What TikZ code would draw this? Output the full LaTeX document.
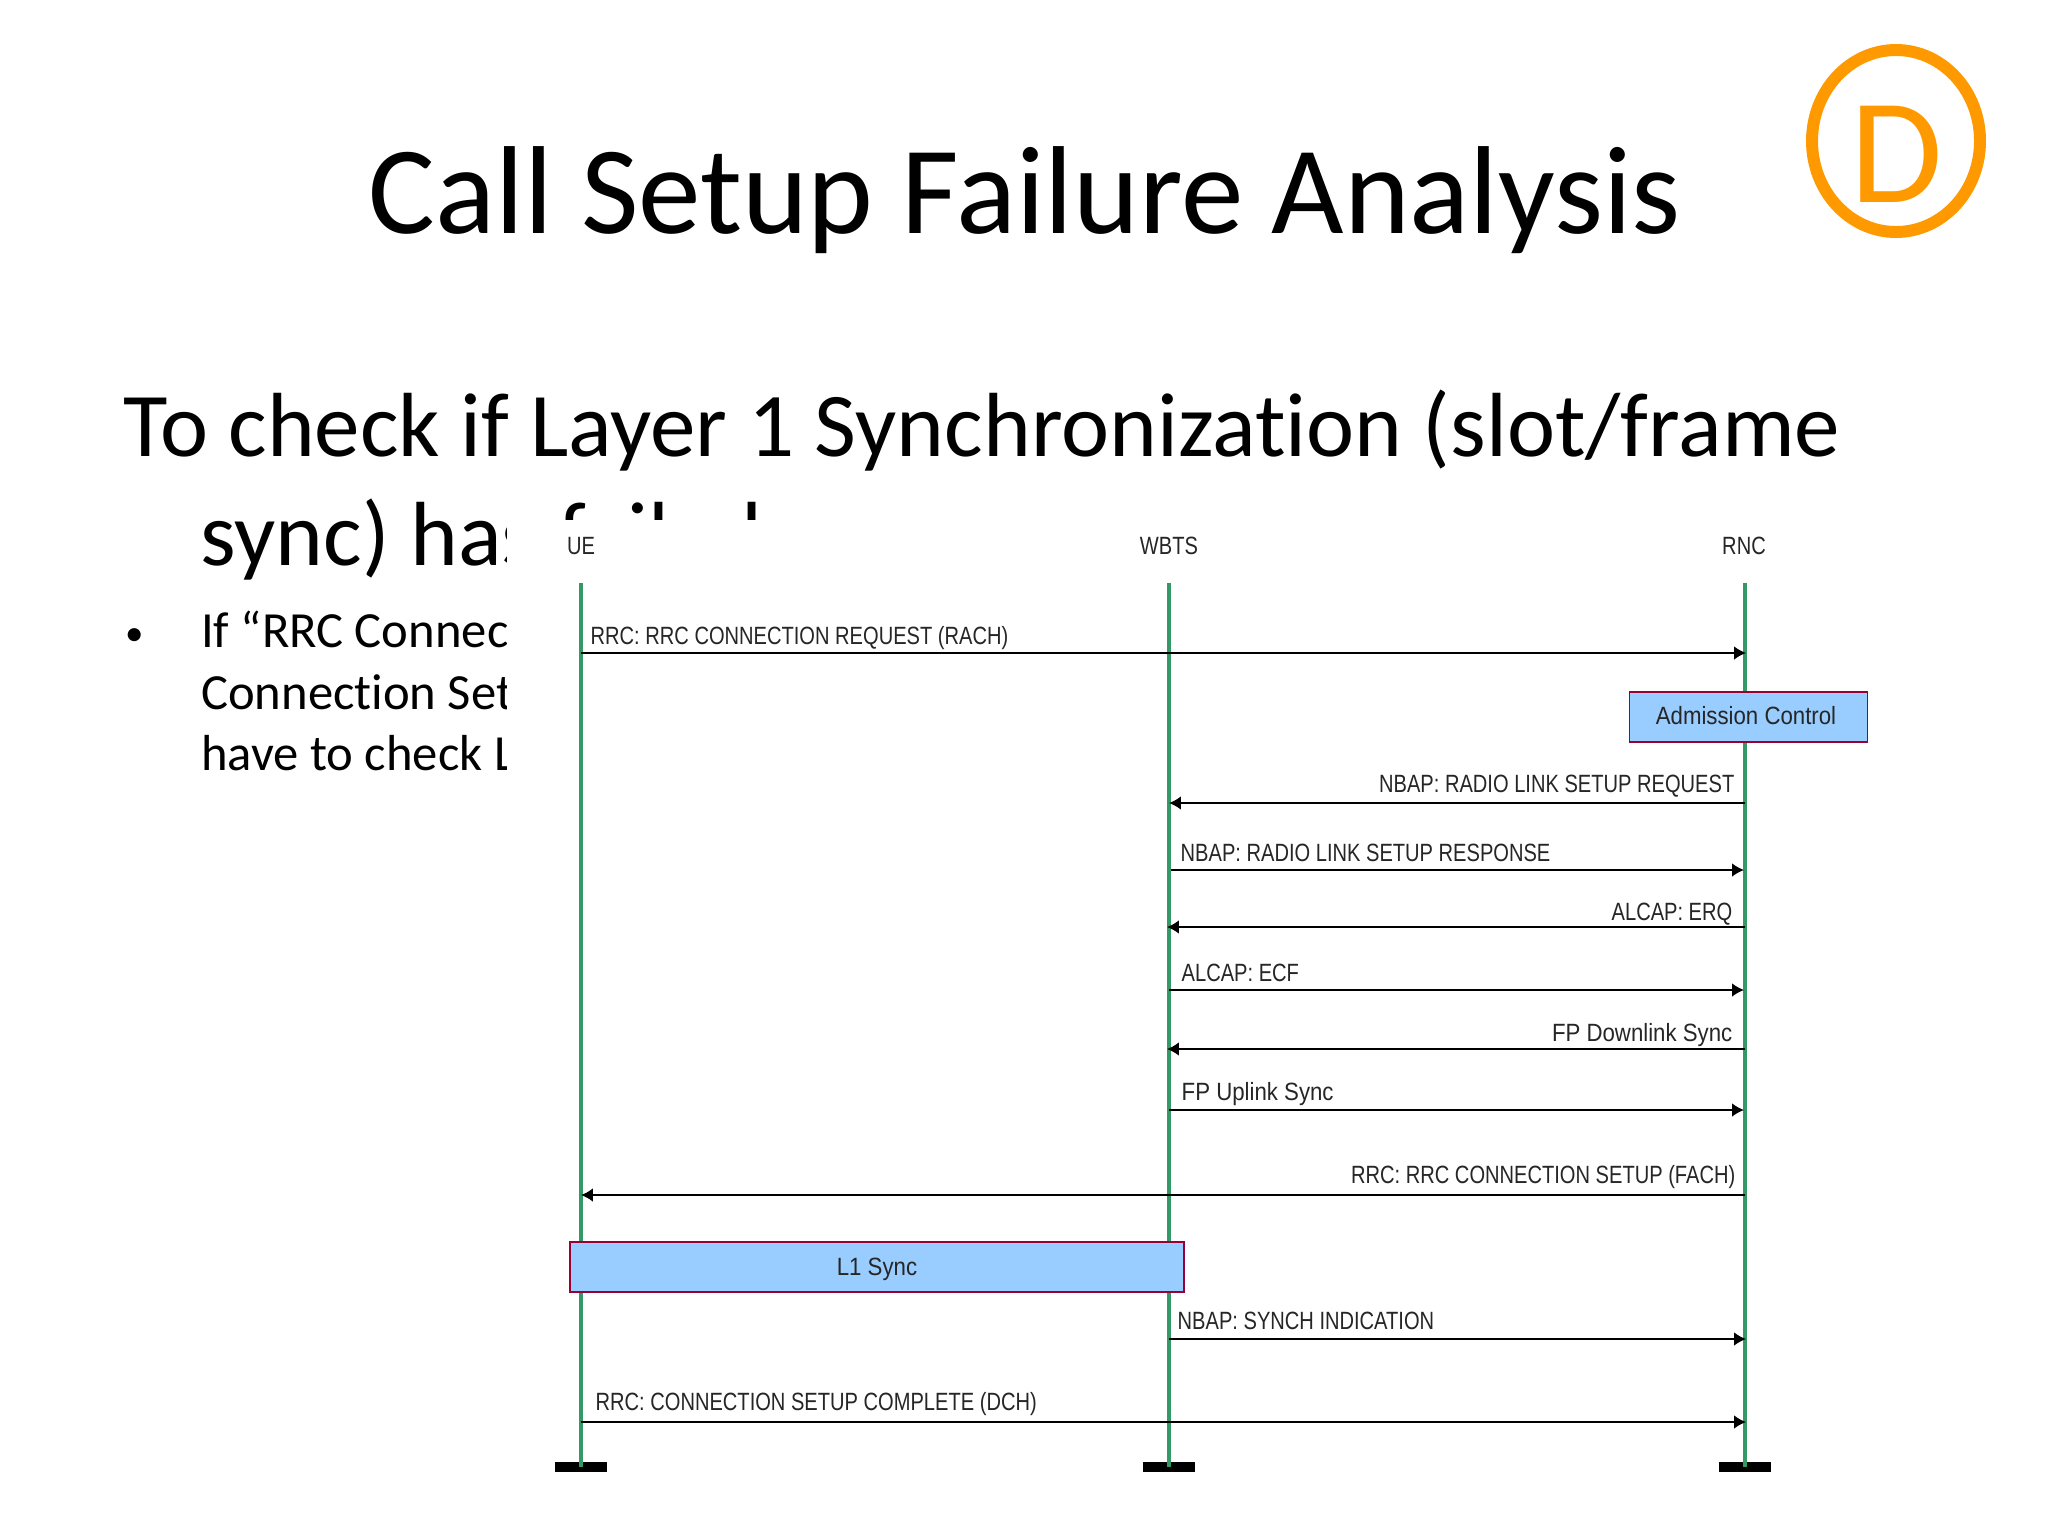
\documentclass[tikz,border=0pt]{standalone}
\usepackage{fontspec}
\setmainfont[Ligatures=NoCommon]{Carlito}
\newfontfamily\seqfont[FakeStretch=0.805]{Liberation Sans}
\newfontfamily\seqmixfont[FakeStretch=0.89]{Liberation Sans}
\usetikzlibrary{arrows.meta}
\definecolor{lifegreen}{HTML}{339966}
\definecolor{boxblue}{HTML}{99CCFF}
\definecolor{boxred}{HTML}{990033}
\definecolor{logoorange}{HTML}{FF9900}
\tikzset{
    slidetext/.style={anchor=base west, inner sep=0pt, font=\fontsize{#1}{#1}\selectfont},
    seqlabel/.style={inner sep=0pt, text=black!85, font=\seqfont\fontsize{7.1}{8}\selectfont},
    seqmix/.style={inner sep=0pt, text=black!85, font=\seqmixfont\fontsize{7.1}{8}\selectfont},
    lifeline/.style={lifegreen, line width=1.35pt},
    msg/.style={-{Latex[length=3.4pt,width=3.9pt]}, line width=0.55pt},
    sysbox/.style={draw=boxred, fill=boxblue, line width=0.45pt, inner sep=0pt}
}

\begin{document}
\begin{tikzpicture}[x=0.01cm, y=-0.01cm]
    \useasboundingbox (0,0) rectangle (2048,1536);

    % slide text
    \node[slidetext=35.6, anchor=base] (title) at (1025,233) {Call Setup Failure Analysis};
    \node[slidetext=25.9] (bodya) at (123,456) {To check if Layer 1 Synchronization (slot/frame};
    \node[slidetext=25.9] (bodyb) at (200,565) {sync) has failed};
    \node[slidetext=10.5] (dot) at (124.5,645) {•};
    \node[slidetext=14.4] (bula) at (200.5,647) {If “RRC Connection};
    \node[slidetext=14.4] (bulb) at (200.5,709) {Connection Setup};
    \node[slidetext=14.4] (bulc) at (200.5,770) {have to check L1};

    % the pasted chart hides the rest of the text
    \fill[white] (507,520) rectangle (1900,1536);

    % logo
    \draw[logoorange, line width=3.4pt] (1896,141) ellipse (84 and 91);
    \node[slidetext=42.7, text=logoorange, anchor=base] (logo) at (1897,202) {D};

    % heads
    \node[seqlabel, anchor=base] (ue) at (581,554) {UE};
    \node[seqlabel, anchor=base] (wbts) at (1169,554) {WBTS};
    \node[seqlabel, anchor=base] (rnc) at (1744,554) {RNC};

    % feet
    \node[fill=black, minimum width=52*0.2845pt, minimum height=10*0.2845pt, inner sep=0pt] (uefoot) at (581,1467) {};
    \node[fill=black, minimum width=52*0.2845pt, minimum height=10*0.2845pt, inner sep=0pt] (wbtsfoot) at (1169,1467) {};
    \node[fill=black, minimum width=52*0.2845pt, minimum height=10*0.2845pt, inner sep=0pt] (rncfoot) at (1745,1467) {};

    % lifelines
    \coordinate (uetop) at (581,583);
    \coordinate (wbtstop) at (1169,583);
    \coordinate (rnctop) at (1745,583);
    \draw[lifeline] (uetop) -- (uefoot.center);
    \draw[lifeline] (wbtstop) -- (wbtsfoot.center);
    \draw[lifeline] (rnctop) -- (rncfoot.center);

    % messages
    \coordinate (ma) at (581,653);
    \coordinate (na) at (1746,653);
    \coordinate (mb) at (1745,803);
    \coordinate (nb) at (1169,803);
    \coordinate (mc) at (1171,870);
    \coordinate (nc) at (1744,870);
    \coordinate (md) at (1745,927);
    \coordinate (nd) at (1167,927);
    \coordinate (me) at (1169,990);
    \coordinate (ne) at (1744,990);
    \coordinate (mf) at (1745,1049);
    \coordinate (nf) at (1167,1049);
    \coordinate (mg) at (1169,1110);
    \coordinate (ng) at (1744,1110);
    \coordinate (mh) at (1745,1195);
    \coordinate (nh) at (581,1195);
    \coordinate (mi) at (1169,1339);
    \coordinate (ni) at (1746,1339);
    \coordinate (mj) at (581,1422);
    \coordinate (nj) at (1746,1422);
    \draw[msg] (ma) -- (na);
    \draw[msg] (mb) -- (nb);
    \draw[msg] (mc) -- (nc);
    \draw[msg] (md) -- (nd);
    \draw[msg] (me) -- (ne);
    \draw[msg] (mf) -- (nf);
    \draw[msg] (mg) -- (ng);
    \draw[msg] (mh) -- (nh);
    \draw[msg] (mi) -- (ni);
    \draw[msg] (mj) -- (nj);

    % message labels
    \node[seqlabel, anchor=base west] (la) at (590,644) {RRC: RRC CONNECTION REQUEST (RACH)};
    \node[seqlabel, anchor=base east] (lb) at (1735,792) {NBAP: RADIO LINK SETUP REQUEST};
    \node[seqlabel, anchor=base west] (lc) at (1180,861) {NBAP: RADIO LINK SETUP RESPONSE};
    \node[seqlabel, anchor=base east] (ld) at (1733,920) {ALCAP: ERQ};
    \node[seqlabel, anchor=base west] (le) at (1181,981) {ALCAP: ECF};
    \node[seqmix, anchor=base east] (lf) at (1733,1041) {FP Downlink Sync};
    \node[seqmix, anchor=base west] (lg) at (1181,1100) {FP Uplink Sync};
    \node[seqlabel, anchor=base east] (lh) at (1736,1183) {RRC: RRC CONNECTION SETUP (FACH)};
    \node[seqlabel, anchor=base west] (li) at (1177,1329) {NBAP: SYNCH INDICATION};
    \node[seqlabel, anchor=base west] (lj) at (595,1410) {RRC: CONNECTION SETUP COMPLETE (DCH)};

    % boxes
    \node[sysbox, minimum width=238*0.2845pt, minimum height=50*0.2845pt] (adm) at (1748.5,717) {};
    \node[seqmix, anchor=base] (admtext) at (1746,724) {Admission Control};
    \node[sysbox, minimum width=614*0.2845pt, minimum height=50*0.2845pt] (sync) at (877,1267) {};
    \node[seqmix, anchor=base] (synctext) at (877,1275) {L1 Sync};
\end{tikzpicture}
\end{document}
